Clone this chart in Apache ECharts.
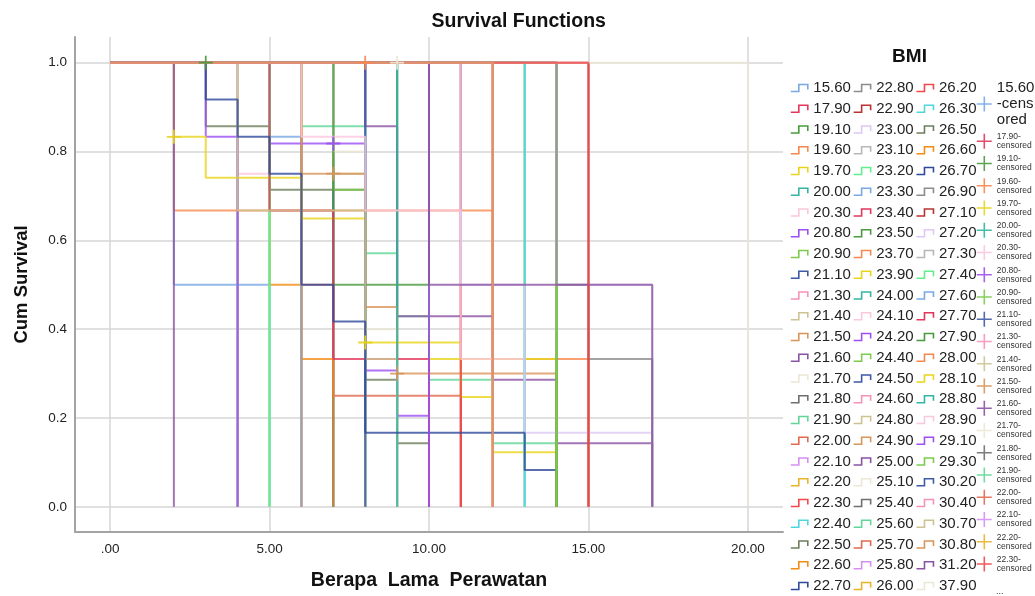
<!DOCTYPE html>
<html><head><meta charset="utf-8">
<script src="https://cdn.jsdelivr.net/npm/echarts@6/dist/echarts.min.js"></script>
<style>html,body{margin:0;padding:0;background:#fff}#c{width:1035px;height:596px}</style>
</head><body><div id="c"></div>
<script>
const groupNames = ['15.60','17.90','19.10','19.60','19.70','20.00','20.30','20.80','20.90','21.10','21.30','21.40','21.50','21.60','21.70','21.80','21.90','22.00','22.10','22.20','22.30','22.40','22.50','22.60','22.70',
'22.80','22.90','23.00','23.10','23.20','23.30','23.40','23.50','23.70','23.90','24.00','24.10','24.20','24.40','24.50','24.60','24.80','24.90','25.00','25.10','25.40','25.60','25.70','25.80','26.00',
'26.20','26.30','26.50','26.60','26.70','26.90','27.10','27.20','27.30','27.40','27.60','27.70','27.90','28.00','28.10','28.80','28.90','29.10','29.30','30.20','30.40','30.70','30.80','31.20','37.90'];
const stepTimes = [
[2,5],[11],[3,7,10],[8,12],[2,3,6,8,11,12,14],[9],[4,5],[5,7,8,9,10],[7,8],[8],[6],[4,8,9],[6,7,8,9,14],[2],[7,8,9],[4],[6,8,9,10,12,14],[6,7,11],[10],[6],[11],[13],[3,5,8,9,10],[6,7],[7],
[4],[11],[11,13,17],[4],[5],[5,6],[5,7,10],[14],[12],[12],[9],[6,8,11,13],[3,4],[14],[8],[12],[7,8],[12],[8,9,12,14,17],[9],[14],[9],[12],[10],[13],
[15],[13],[9],[5,6],[3,4,5,6,7,8,13,14],[14,15,17],[15],[14,17],[4],[5],[8],[11],[7],[2,12,15],[10,14],[9],[6],[10],[14],[8],[12],[12],[12],[10,17],[20]];
const stepSurvival = [
[0.5,0],[0],[1,0.5,0],[1,0],[0.833,0.741,0.649,0.37,0.247,0.123,0],[0],[0.75,0],[0.818,0.818,0.307,0.205,0],[0.714,0],[0],[0],[0.667,0.333,0],[0.75,0.75,0.45,0.3,0],[0],[0.8,0.4,0],[0],[0.857,0.571,0.429,0.286,0.143,0],[0.5,0.25,0],[0],[0],[0],[0],[0.857,0.714,0.286,0.143,0],[0.333,0],[0],
[0],[0],[0.5,0.167,0],[0],[0],[0.833,0],[0.667,0.333,0],[0],[0],[0],[0],[0.833,0.667,0.333,0],[0.833,0],[0],[0],[0],[0.75,0],[0],[0.857,0.429,0.286,0.143,0],[1],[0],[0],[0],[0],[0],
[0],[0],[0],[0.5,0],[0.917,0.833,0.75,0.5,0.417,0.167,0.083,0],[0.5,0.333,0],[0],[0.5,0],[0],[0],[0],[0],[0],[0.667,0.333,0],[0.333,0],[0],[0],[0],[0],[0],[0],[0],[0],[0.5,0],[0]];
const censorGroups = ['19.10','19.60','19.70','19.70','20.80','21.50','21.50','25.10'];
const censorTimes = [3,8,2,8,7,7,9,9];
const censorSurvival = [1,1,0.833,0.37,0.818,0.75,0.3,1];
const censorLegendCount = 21;
const xTicks = [0,5,10,15,20];
const xTickLabels = ['.00','5.00','10.00','15.00','20.00'];
const yTicks = [0,0.2,0.4,0.6,0.8,1.0];
const yTickLabels = ['0.0','0.2','0.4','0.6','0.8','1.0'];

const palette = ['#78a9e3','#e2375b','#4a9a3e','#f7874f','#e8d41c','#33b5a2','#fbc7dd','#9c4ff2','#7ccb4c','#3e5aa6',
'#f891b9','#cdc391','#d8955a','#8b53a3','#ece7d5','#6f6f6f','#62d698','#e1694f','#d58ef3','#e8b42a',
'#f2474b','#4fd7dd','#6d7e5c','#f28c15','#2f4a9b','#8c8c8c','#b93333','#ddc9f3','#b7b7b7','#60ef8c'];
const drawOrder = [62,24,15,25,28,58,9,39,60,5,65,46,52,18,48,1,26,61,33,34,71,72,47,70,49,10,19,66,
0,6,17,23,53,30,7,22,37,8,41,14,16,43,4,63,64,
59,29,2,31,12,69,11,35,
20,36,21,51,27,3,44,
54,67,45,32,38,68,
57,55,56,13,73,74,50,40,42];

const FONT = '"Liberation Sans", Arial, sans-serif';
const colorOf = i => palette[i % palette.length];

const series = [];
drawOrder.forEach(i => {
  const data = [[0,1]];
  stepTimes[i].forEach((t,k) => data.push([t, stepSurvival[i][k]]));
  series.push({
    type:'line', name: groupNames[i], step:'end', symbol:'none', data,
    lineStyle:{color: colorOf(i), width:2, opacity:0.8},
    itemStyle:{color: colorOf(i)}, silent:true, animation:false
  });
});
const censorSeriesGroups = groupNames.slice(0, censorLegendCount);
censorGroups.forEach(g => { if (censorSeriesGroups.indexOf(g) < 0) censorSeriesGroups.push(g); });
censorSeriesGroups.forEach(g => {
  const i = groupNames.indexOf(g);
  const data = [];
  censorGroups.forEach((cg,k) => { if (cg === g) data.push([censorTimes[k], censorSurvival[k]]); });
  series.push({
    type:'scatter', name: g + '-censored', data,
    symbol:'path://M0,7L14,7M7,0L7,14', symbolSize:14,
    itemStyle:{color: colorOf(i), borderColor: colorOf(i), borderWidth:1.8, opacity:0.9},
    silent:true, animation:false, z:3
  });
});

const chart = echarts.init(document.getElementById('c'), null, {renderer:'canvas'});
chart.setOption({
  animation:false,
  backgroundColor:'#ffffff',
  textStyle:{fontFamily: FONT},
  grid:{left:75, right:252, top:37, bottom:58, containLabel:false},
  xAxis:{
    type:'value', min:-1.1, max:21.1,
    name:'Berapa  Lama  Perawatan', nameLocation:'middle', nameGap:39,
    nameTextStyle:{fontFamily:FONT, fontSize:19.5, fontWeight:'bold', color:'#111'},
    axisLine:{show:true, onZero:false, lineStyle:{color:'#a3a3a3', width:2}},
    axisTick:{show:false, customValues: xTicks},
    axisLabel:{customValues: xTicks, margin:10, fontFamily:FONT, fontSize:13.5, color:'#222',
      formatter: v => xTickLabels[xTicks.indexOf(v)]},
    splitLine:{show:true, lineStyle:{color:'#d6d6d6', width:1.5}}
  },
  yAxis:{
    type:'value', min:-0.0567, max:1.0578,
    name:'Cum Survival', nameLocation:'middle', nameGap:44,
    nameTextStyle:{fontFamily:FONT, fontSize:18.5, fontWeight:'bold', color:'#111'},
    axisLine:{show:true, onZero:false, lineStyle:{color:'#a3a3a3', width:2}},
    axisTick:{show:false, customValues: yTicks},
    axisLabel:{customValues: yTicks, margin:8, fontFamily:FONT, fontSize:13.5, color:'#222',
      formatter: v => yTickLabels[yTicks.findIndex(t => Math.abs(t - v) < 1e-6)]},
    splitLine:{show:true, lineStyle:{color:'#d6d6d6', width:1.5}}
  },
  legend:[{
    orient:'vertical', left:790, top:78.6, height:520, padding:0, itemGap:2,
    itemWidth:18, itemHeight:7, selectedMode:false,
    icon:'path://M0,7L8,7L8,0L17,0L17,5',
    textStyle:{fontFamily:FONT, fontSize:15, color:'#222', lineHeight:18.75},
    data: groupNames.map((n,i) => ({name:n, itemStyle:{color:'transparent', borderColor:colorOf(i), borderWidth:1.6}}))
  },{
    orient:'vertical', left:976, top:80, height:560, padding:0, itemGap:4.25,
    itemWidth:15, itemHeight:16, selectedMode:false,
    icon:'path://M0,8L16,8M8,0L8,16',
    formatter: name => name === groupNames[0] + '-censored' ? groupNames[0] + '\n-cens\nored' : name.replace('-censored','-\ncensored'),
    textStyle:{fontFamily:FONT, fontSize:8.5, color:'#333', lineHeight:9},
    data: groupNames.slice(0, censorLegendCount).map((g,i) => {
      const item = {name: g + '-censored', itemStyle:{color:'transparent', borderColor:colorOf(i), borderWidth:1.6}};
      if (i === 0) item.textStyle = {fontFamily:FONT, fontSize:15, lineHeight:16, color:'#222'};
      return item;
    })
  }],
  graphic:[
    {type:'text', x:518.7, y:21.7, style:{text:'Survival Functions', textAlign:'center', textVerticalAlign:'middle', font:'bold 19.5px ' + FONT, fill:'#111'}},
    {type:'text', x:909.5, y:57, style:{text:'BMI', textAlign:'center', textVerticalAlign:'middle', font:'bold 19px ' + FONT, fill:'#111'}},
    {type:'text', x:996, y:592, style:{text:'...', textAlign:'left', textVerticalAlign:'middle', font:'9px ' + FONT, fill:'#333'}}
  ],
  series
});
</script></body></html>
